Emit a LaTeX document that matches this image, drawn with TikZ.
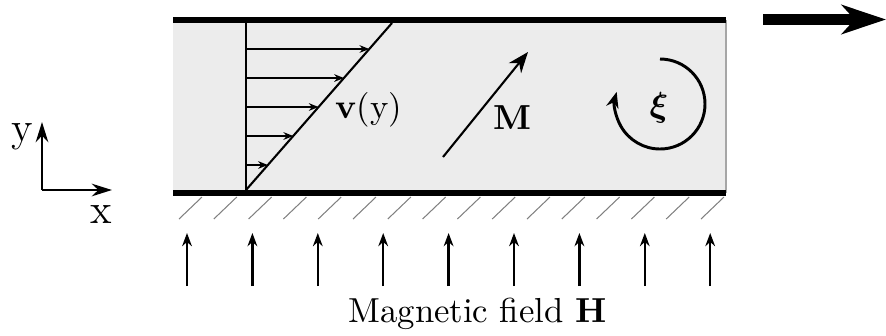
\documentclass[tikz,border=0pt]{standalone}
\usepackage{amsmath,amsbsy}
\usetikzlibrary{arrows.meta,calc}
\begin{document}
\begin{tikzpicture}[x=0.288pt,y=-0.288pt,
  fluid/.style={fill=gray!15},
  plate/.style={line width=1.73pt},
  profile/.style={line width=0.6pt},
  velarrow/.style={line width=0.55pt,-{Stealth[length=2.8pt,width=2.2pt]}},
  marrow/.style={line width=0.6pt,-{Stealth[length=6pt,width=4.6pt]}},
  rotarrow/.style={line width=0.85pt,-{Stealth[length=4.6pt,width=3.6pt]}},
  axisarrow/.style={line width=0.85pt,-{Stealth[length=5.8pt,width=3.6pt]}},
  fieldarrow/.style={line width=0.7pt,-{Stealth[length=3.8pt,width=2.8pt]}},
  hatch/.style={gray,line width=0.3pt},
  bigarrow/.style={line width=3.17pt,-{Stealth[length=12.7pt,width=8.35pt,inset=3.7pt]}}]
\useasboundingbox (0,0) rectangle (886,335);
% channel
\coordinate (TL) at (173,20);
\coordinate (TR) at (726,20);
\coordinate (BL) at (173,193);
\coordinate (BR) at (726,193);
\fill[fluid] (TL) rectangle (BR);
\draw[gray!70,line width=0.4pt] (TR) -- (BR);
\draw[plate] (TL) -- (TR);
\draw[plate] (BL) -- (BR);
% hatching
\foreach \k in {0,...,15}{
  \draw[hatch] ({179+34.8*\k},219) -- ({202+34.8*\k},197);
}
% velocity profile
\coordinate (V0) at (246,190);
\coordinate (V1) at (246,23);
\coordinate (D1) at (392,23);
\draw[profile] (V0) -- (V1);
\draw[profile] (V0) -- (D1);
\foreach \yy in {49,78,107,136,165}{
  \draw[velarrow] ($(V0)!{(190-\yy)/167}!(V1)$) -- ($(V0)!{(190-\yy)/167}!(D1)$);
}
\node (vlabel) at (369,110) {\textbf{v}(y)};
% magnetization
\coordinate (M0) at (443,157);
\coordinate (M1) at (528,52);
\draw[marrow] (M0) -- (M1);
\node (Mlabel) at (512,118) {$\mathbf{M}$};
% rotation
\coordinate (R0) at (660,59);
\draw[rotarrow] (R0) arc[start angle=90,end angle=-195.6,radius=12.96pt];
\node (xilabel) at (659,108) {$\boldsymbol{\xi}$};
% big arrow
\coordinate (F0) at (763,19.5);
\coordinate (F1) at (886,19.5);
\draw[bigarrow] (F0) -- (F1);
% axes
\coordinate (O) at (42,190);
\coordinate (Ay) at (42,122);
\coordinate (Ax) at (112,190);
\draw[axisarrow] (O) -- (Ay);
\draw[axisarrow] (O) -- (Ax);
\node[anchor=base] (ylabel) at (22,141) {\large y};
\node[anchor=base] (xlabel) at (101,223) {\large x};
% field arrows
\foreach \k in {0,...,8}{
  \draw[fieldarrow] ({187+65.4*\k},286) -- ({187+65.4*\k},233);
}
\node[anchor=base] (Hlabel) at (477.5,322) {Magnetic field $\mathbf{H}$};
\end{tikzpicture}
\end{document}
